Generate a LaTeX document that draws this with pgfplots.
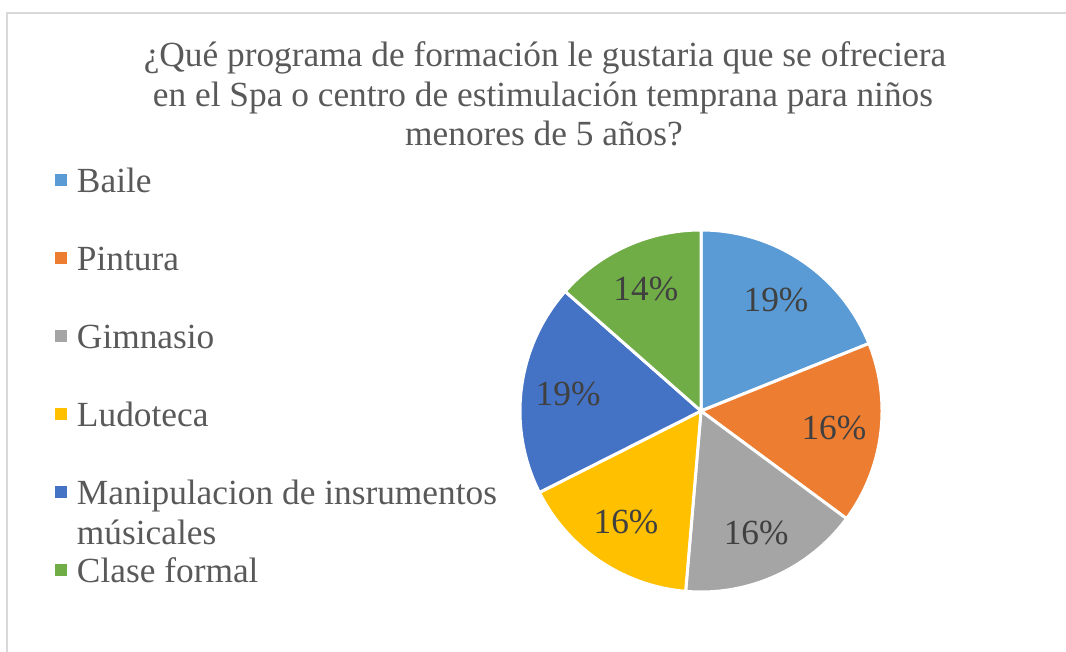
\documentclass[border=0pt]{standalone}
\usepackage{fontspec}
\setmainfont{Liberation Serif}
\usepackage{pgfplots}
\pgfplotsset{compat=1.18}

\definecolor{cBaile}{HTML}{5B9BD5}
\definecolor{cPintura}{HTML}{ED7D31}
\definecolor{cGimnasio}{HTML}{A5A5A5}
\definecolor{cLudoteca}{HTML}{FFC000}
\definecolor{cManip}{HTML}{4472C4}
\definecolor{cClase}{HTML}{70AD47}
\definecolor{txt}{HTML}{595959}
\definecolor{lab}{HTML}{404040}
\definecolor{frame}{HTML}{D9D9D9}

% counts: 7, 6, 6, 6, 7, 5 (total 37), clockwise from the top
\pgfmathsetmacro\aA{90}
\pgfmathsetmacro\aB{\aA-360*7/37}
\pgfmathsetmacro\aC{\aB-360*6/37}
\pgfmathsetmacro\aD{\aC-360*6/37}
\pgfmathsetmacro\aE{\aD-360*6/37}
\pgfmathsetmacro\aF{\aE-360*7/37}
\pgfmathsetmacro\aG{\aF-360*5/37}
% middle of each slice, for the labels
\pgfmathsetmacro\mA{(\aA+\aB)/2}
\pgfmathsetmacro\mB{(\aB+\aC)/2}
\pgfmathsetmacro\mC{(\aC+\aD)/2}
\pgfmathsetmacro\mD{(\aD+\aE)/2}
\pgfmathsetmacro\mE{(\aE+\aF)/2}
\pgfmathsetmacro\mF{(\aF+\aG)/2}

\begin{document}
\begin{tikzpicture}[
    lbl/.style={text=lab, font=\fontsize{26.5}{29.6}\selectfont, inner sep=0pt},
    ttl/.style={anchor=base, text=txt, font=\fontsize{26.5}{29.6}\selectfont, inner sep=0pt},
]
\begin{axis}[
    width=799.5pt, height=489pt, scale only axis,
    xmin=0, xmax=1066, ymin=-652, ymax=0,
    hide axis,
    legend style={at={(axis cs:55,-166.3)}, anchor=north west,
        draw=none, fill=none, inner sep=0pt, outer sep=0pt,
        row sep=0pt, column sep=7.5pt,
        font=\fontsize{26.5}{29.6}\selectfont, text=txt,
        nodes={inner sep=0pt, text height=20pt, text depth=38.5pt}},
    legend cell align=left,
    legend image code/.code={\path[#1, draw=none] (0pt,14.6pt) rectangle (9pt,23.6pt);},
    pie/.style={draw=white, line width=2.25pt, line join=round, samples=80},
]
\coordinate (bl) at (axis cs:0,-652);
\coordinate (tr) at (axis cs:1066,0);
\draw[frame, line width=1.5pt] (axis cs:7,-652) -- (axis cs:7,-13) -- (axis cs:1066,-13);

\addplot[pie, fill=cBaile, domain=\aB:\aA] ({701+181*cos(x)},{-411+181*sin(x)}) -- (axis cs:701,-411) -- cycle;
\addlegendentry{Baile}
\addplot[pie, fill=cPintura, domain=\aC:\aB] ({701+181*cos(x)},{-411+181*sin(x)}) -- (axis cs:701,-411) -- cycle;
\addlegendentry{Pintura}
\addplot[pie, fill=cGimnasio, domain=\aD:\aC] ({701+181*cos(x)},{-411+181*sin(x)}) -- (axis cs:701,-411) -- cycle;
\addlegendentry{Gimnasio}
\addplot[pie, fill=cLudoteca, domain=\aE:\aD] ({701+181*cos(x)},{-411+181*sin(x)}) -- (axis cs:701,-411) -- cycle;
\addlegendentry{Ludoteca}
\addplot[pie, fill=cManip, domain=\aF:\aE] ({701+181*cos(x)},{-411+181*sin(x)}) -- (axis cs:701,-411) -- cycle;
\addlegendentry{\parbox[t]{330pt}{\raggedright Manipulacion de insrumentos\\músicales}}
\addplot[pie, fill=cClase, domain=\aG:\aF] ({701+181*cos(x)},{-411+181*sin(x)}) -- (axis cs:701,-411) -- cycle;
\addlegendentry{Clase formal}

\node[lbl] at (axis cs:{701+134*cos(\mA)},{-411+134*sin(\mA)}) {19\%};
\node[lbl] at (axis cs:{701+134*cos(\mB)},{-411+134*sin(\mB)}) {16\%};
\node[lbl] at (axis cs:{701+134*cos(\mC)},{-411+134*sin(\mC)}) {16\%};
\node[lbl] at (axis cs:{701+134*cos(\mD)},{-411+134*sin(\mD)}) {16\%};
\node[lbl] at (axis cs:{701+134*cos(\mE)},{-411+134*sin(\mE)}) {19\%};
\node[lbl] at (axis cs:{701+134*cos(\mF)},{-411+134*sin(\mF)}) {14\%};

\node[ttl] at (axis cs:545,-67) {¿Qué programa de formación le gustaria que se ofreciera};
\node[ttl] at (axis cs:543,-106.5) {en el Spa o centro de estimulación temprana para niños};
\node[ttl] at (axis cs:544,-146) {menores de 5 años?};
\end{axis}
\pgfresetboundingbox
\path[use as bounding box] (bl) rectangle (tr);
\end{tikzpicture}
\end{document}
